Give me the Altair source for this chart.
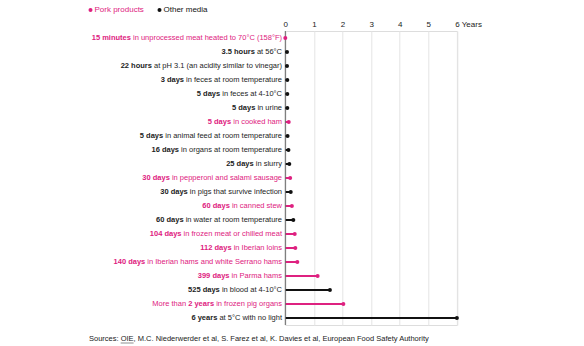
import altair as alt
import pandas as pd

# ---------------- data ----------------
bold_parts = ["15 minutes", "3.5 hours", "22 hours", "3 days", "5 days", "5 days", "5 days",
              "5 days", "16 days", "25 days", "30 days", "30 days", "60 days", "60 days",
              "104 days", "112 days", "140 days", "399 days", "525 days", "2 years", "6 years"]
prefix_parts = [""] * 19 + ["More than", ""]
rest_parts = ["in unprocessed meat heated to 70°C (158°F)", "at 56°C",
              "at pH 3.1 (an acidity similar to vinegar)", "in feces at room temperature",
              "in feces at 4-10°C", "in urine", "in cooked ham",
              "in animal feed at room temperature", "in organs at room temperature",
              "in slurry", "in pepperoni and salami sausage", "in pigs that survive infection",
              "in canned stew", "in water at room temperature",
              "in frozen meat or chilled meat", "in Iberian loins",
              "in Iberian hams and white Serrano hams", "in Parma hams",
              "in blood at 4-10°C", "in frozen pig organs", "at 5°C with no light"]
groups = ["Pork products", "Other media", "Other media", "Other media", "Other media",
          "Other media", "Pork products", "Other media", "Other media", "Other media",
          "Pork products", "Other media", "Pork products", "Other media", "Pork products",
          "Pork products", "Pork products", "Pork products", "Other media",
          "Pork products", "Other media"]
# survival time in years, as drawn
years = [0.0, 0.06, 0.06, 0.07, 0.07, 0.07, 0.12, 0.08, 0.11, 0.14, 0.17, 0.19, 0.23,
         0.28, 0.33, 0.35, 0.42, 1.13, 1.56, 2.03, 6.0]
tick_values = [0, 1, 2, 3, 4, 5, 6]
source_prefix = "Sources:"
source_link = "OIE"
source_rest = (", M.C. Niederwerder et al, S. Farez et al, K. Davies et al, "
               "European Food Safety Authority")

PINK = "#de2180"
BLACK = "#111111"
GREY_TEXT = "#1c1c1c"

# ---------------- layout ----------------
W = 171.6
H = 294
PXY = W / 6.0
FS = 7.5

REG = {' ': 278, '!': 278, '(': 333, ')': 333, ',': 278, '-': 333, '.': 278, ':': 278,
       '°': 400, 'A': 667, 'B': 667, 'C': 722, 'D': 722, 'E': 667, 'F': 611, 'G': 778,
       'H': 722, 'I': 278, 'J': 500, 'K': 667, 'L': 556, 'M': 833, 'N': 722, 'O': 778,
       'P': 667, 'Q': 778, 'R': 722, 'S': 667, 'T': 611, 'U': 722, 'V': 667, 'W': 944,
       'X': 667, 'Y': 667, 'Z': 611, 'a': 556, 'b': 556, 'c': 500, 'd': 556, 'e': 556,
       'f': 278, 'g': 556, 'h': 556, 'i': 222, 'j': 222, 'k': 500, 'l': 222, 'm': 833,
       'n': 556, 'o': 556, 'p': 556, 'q': 556, 'r': 333, 's': 500, 't': 278, 'u': 556,
       'v': 500, 'w': 722, 'x': 500, 'y': 500, 'z': 500}
BOLD = {' ': 278, '.': 278, 'a': 556, 'b': 611, 'c': 556, 'd': 611, 'e': 556, 'f': 333,
        'g': 611, 'h': 611, 'i': 278, 'j': 278, 'k': 556, 'l': 278, 'm': 889, 'n': 611,
        'o': 611, 'p': 611, 'q': 611, 'r': 389, 's': 556, 't': 333, 'u': 611, 'v': 556,
        'w': 778, 'x': 556, 'y': 556, 'z': 500}


def tw(s, bold, fs=FS):
    tbl = BOLD if bold else REG
    return sum(tbl.get(c, 556) for c in s) * fs / 1000.0


rows = []
segs = []
for i in range(len(bold_parts)):
    rows.append({"idx": i, "v": years[i], "z": 0.0, "group": groups[i]})
    parts = []
    if prefix_parts[i]:
        parts.append((prefix_parts[i], False))
    parts.append((bold_parts[i], True))
    parts.append((rest_parts[i], False))
    right = -3.3
    pink = groups[i] == "Pork products"
    for text, b in reversed(parts):
        segs.append({"idx": i, "t": text, "x": right / PXY, "bold": b,
                     "col": PINK if pink else GREY_TEXT})
        right -= tw(text, b) + 278 * FS / 1000.0

df = pd.DataFrame(rows)
sdf = pd.DataFrame(segs)

yenc = alt.Y("idx:O", axis=None, scale=alt.Scale(type="point", padding=0.5))
xscale = alt.Scale(domain=[0, 6], nice=False, zero=False)
colscale = alt.Scale(domain=["Pork products", "Other media"], range=[PINK, BLACK])
xaxis = alt.Axis(orient="top", values=tick_values, title=None, domain=False,
                 ticks=False, grid=True, gridColor="#e4e4e4", gridWidth=1,
                 labelFont="Liberation Sans", labelFontSize=8, labelColor="#222",
                 labelPadding=3, labelFlush=False, labelOverlap=False,
                 labelExpr="datum.value == 6 ? '6 Years' : datum.label",
                 labelAlign={"condition": {"test": "datum.value == 6", "value": "left"},
                             "value": "center"},
                 labelOffset={"condition": {"test": "datum.value == 6", "value": -2.2},
                              "value": 0})

base = alt.Chart(df)

lines = base.mark_rule(strokeWidth=2).encode(
    x=alt.X("z:Q", scale=xscale, axis=xaxis),
    x2="v:Q",
    y=yenc,
    color=alt.Color("group:N", scale=colscale, legend=None),
)

zero = alt.Chart(pd.DataFrame({"z": [0.0]})).mark_rule(color="#666666", strokeWidth=1).encode(
    x=alt.X("z:Q", scale=xscale, axis=xaxis), y=alt.value(0), y2=alt.value(H))

dots = base.mark_point(filled=True, size=16, opacity=1).encode(
    x=alt.X("v:Q", scale=xscale, axis=xaxis), y=yenc,
    color=alt.Color("group:N", scale=colscale, legend=None))


def seg_layer(b):
    return alt.Chart(sdf).transform_filter(
        "datum.bold" if b else "!datum.bold"
    ).mark_text(align="right", baseline="middle", font="Liberation Sans", fontSize=FS,
                fontWeight="bold" if b else "normal").encode(
        x=alt.X("x:Q", scale=xscale, axis=xaxis), y=yenc, text="t:N",
        fill=alt.Fill("col:N", scale=None))


leg_df = pd.DataFrame({"g": ["Pork products"]})
leg_df2 = pd.DataFrame({"g": ["Other media"]})
LY = 10 - 31
leg1p = alt.Chart(leg_df).mark_point(filled=True, size=16, color=PINK, opacity=1).encode(
    x=alt.value(90.5 - 285.3), y=alt.value(LY))
leg1t = alt.Chart(leg_df).mark_text(align="left", baseline="middle", font="Liberation Sans",
                                    fontSize=8, color=PINK).encode(
    x=alt.value(94.5 - 285.3), y=alt.value(LY), text="g:N")
leg2p = alt.Chart(leg_df2).mark_point(filled=True, size=16, color=BLACK, opacity=1).encode(
    x=alt.value(159.5 - 285.3), y=alt.value(LY))
leg2t = alt.Chart(leg_df2).mark_text(align="left", baseline="middle", font="Liberation Sans",
                                     fontSize=8, color=BLACK).encode(
    x=alt.value(163.5 - 285.3), y=alt.value(LY), text="g:N")

SX = 89 - 285.3
SY = 339 - 31
sp = 278 * 7.5 / 1000.0
x_link = SX + tw(source_prefix, False) + sp
x_rest = x_link + tw(source_link, False)
src_df = pd.DataFrame({"s": [source_prefix, source_link, source_rest],
                       "px": [SX, x_link, x_rest]})
src = alt.Chart(src_df).mark_text(
    align="left", baseline="middle", font="Liberation Sans", fontSize=7.5, color="#222"
).encode(x=alt.X("px:Q", scale=None, axis=None), y=alt.value(SY), text="s:N")
underline = alt.Chart(pd.DataFrame({"a": [x_link], "b": [x_rest]})).mark_rule(
    color="#444", strokeWidth=0.6).encode(
    x=alt.X("a:Q", scale=None, axis=None), x2="b:Q", y=alt.value(SY + 4))

chart = alt.layer(lines, zero, dots, seg_layer(True), seg_layer(False),
                  leg1p, leg1t, leg2p, leg2t).properties(
    width=W, height=H,
)
chart = alt.layer(chart, alt.layer(src, underline)).resolve_scale(x="independent").properties(
    width=W, height=H,
    autosize=alt.AutoSizeParams(type="none"),
    padding={"left": 285.3, "top": 31, "right": 584 - 285.3 - W, "bottom": 346 - 31 - H},
).configure_view(stroke=None).configure(background="white")

chart.save("out.html", embed_options={"renderer": "svg", "actions": False})
